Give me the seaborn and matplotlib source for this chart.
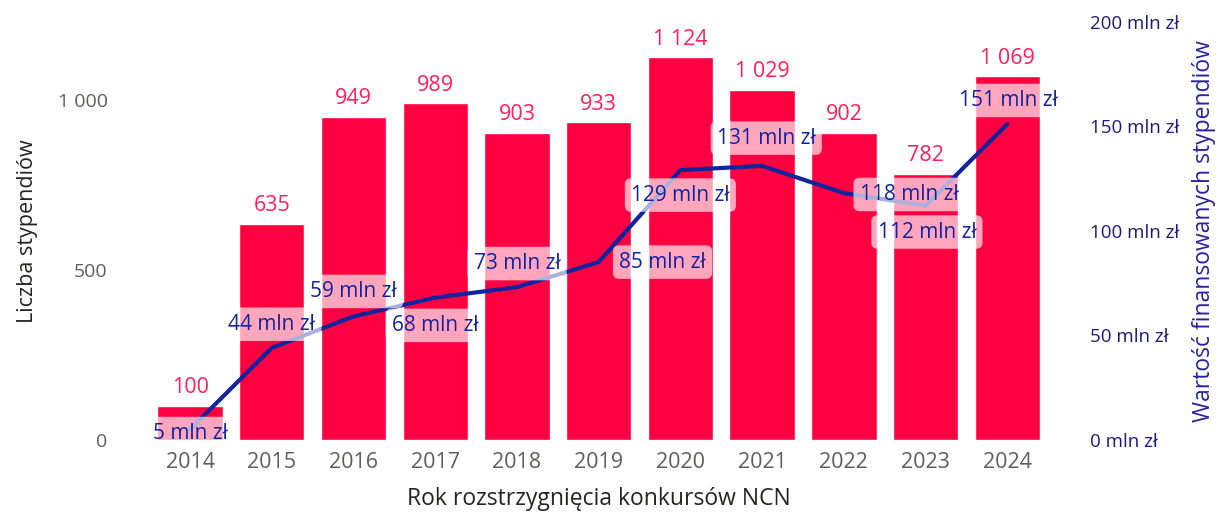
import numpy as np
import pandas as pd
import matplotlib
matplotlib.use("Agg")
import matplotlib.pyplot as plt
import seaborn as sns

# --- data ---
years = ["2014", "2015", "2016", "2017", "2018", "2019", "2020", "2021", "2022", "2023", "2024"]
stypendia = [100, 635, 949, 989, 903, 933, 1124, 1029, 902, 782, 1069]
wartosc_mln = [5, 44, 59, 68, 73, 85, 129, 131, 118, 112, 151]

# label offsets (points) for the value labels on the line
lbl_dx = [0, 0, 0, 0, 0, 46, 0, 3, 47, 1, 1]
lbl_dy = [-3, 17, 18, -20, 17, 0, -18, 20, -1, -19, 17]

sns.set_theme(style="white")
plt.rcParams["font.family"] = ["Open Sans", "DejaVu Sans"]

df = pd.DataFrame({"rok": years, "liczba": stypendia, "mln": wartosc_mln})
df["pos"] = np.arange(len(df))

BAR = "#FF0040"
BAR_TXT = "#FF1F5A"
LINE = "#12239E"
GREY = "#605E5C"

fig = plt.figure(figsize=(12.23, 5.15), dpi=100)
ax = fig.add_axes([0.122, 0.146, 0.735, 0.812])

sns.barplot(data=df, x="rok", y="liczba", color=BAR, width=0.8,
            saturation=1, ax=ax)
ax.set_ylim(0, 1229)
ax.set_xlim(-0.5, len(years) - 0.5)
ax.set_yticks([0, 500, 1000])
ax.set_yticklabels(["0", "500", "1 000"])

for p, v in zip(df["pos"], df["liczba"]):
    txt = f"{v:,}".replace(",", " ")
    ax.text(p, v + 22, txt, ha="center", va="bottom", fontsize=15.5, color=BAR_TXT)

ax.set_xlabel("Rok rozstrzygnięcia konkursów NCN", fontsize=16.5, color="#252423", labelpad=10)
ax.set_ylabel("Liczba stypendiów", fontsize=15.5, color="#252423", labelpad=14)
ax.tick_params(axis="x", labelsize=15.5, colors=GREY, length=0, pad=9)
ax.tick_params(axis="y", labelsize=14, colors=GREY, length=0, pad=30)
for s in ax.spines.values():
    s.set_visible(False)

ax2 = ax.twinx()
sns.lineplot(data=df, x="pos", y="mln", color=LINE, linewidth=3, ax=ax2)
ax2.set_ylim(0, 200)
ax2.set_xlim(-0.5, len(years) - 0.5)
ax2.set_yticks([0, 50, 100, 150, 200])
ax2.set_yticklabels([f"{t} mln zł" for t in [0, 50, 100, 150, 200]])
ax2.tick_params(axis="y", labelsize=13.5, colors="#1F1A7A", length=0, pad=30)
ax2.set_ylabel("Wartość finansowanych stypendiów", fontsize=16.5, color="#2A1FA0", labelpad=9)
for s in ax2.spines.values():
    s.set_visible(False)

for p, v, dx, dy in zip(df["pos"], df["mln"], lbl_dx, lbl_dy):
    ax2.annotate(f"{v} mln zł", (p, v), xytext=(dx, dy), textcoords="offset points",
                 ha="center", va="center", fontsize=15, color=LINE,
                 bbox=dict(boxstyle="round,pad=0.3", fc="white", ec="none", alpha=0.65))

fig.savefig("out.png", dpi=100)
